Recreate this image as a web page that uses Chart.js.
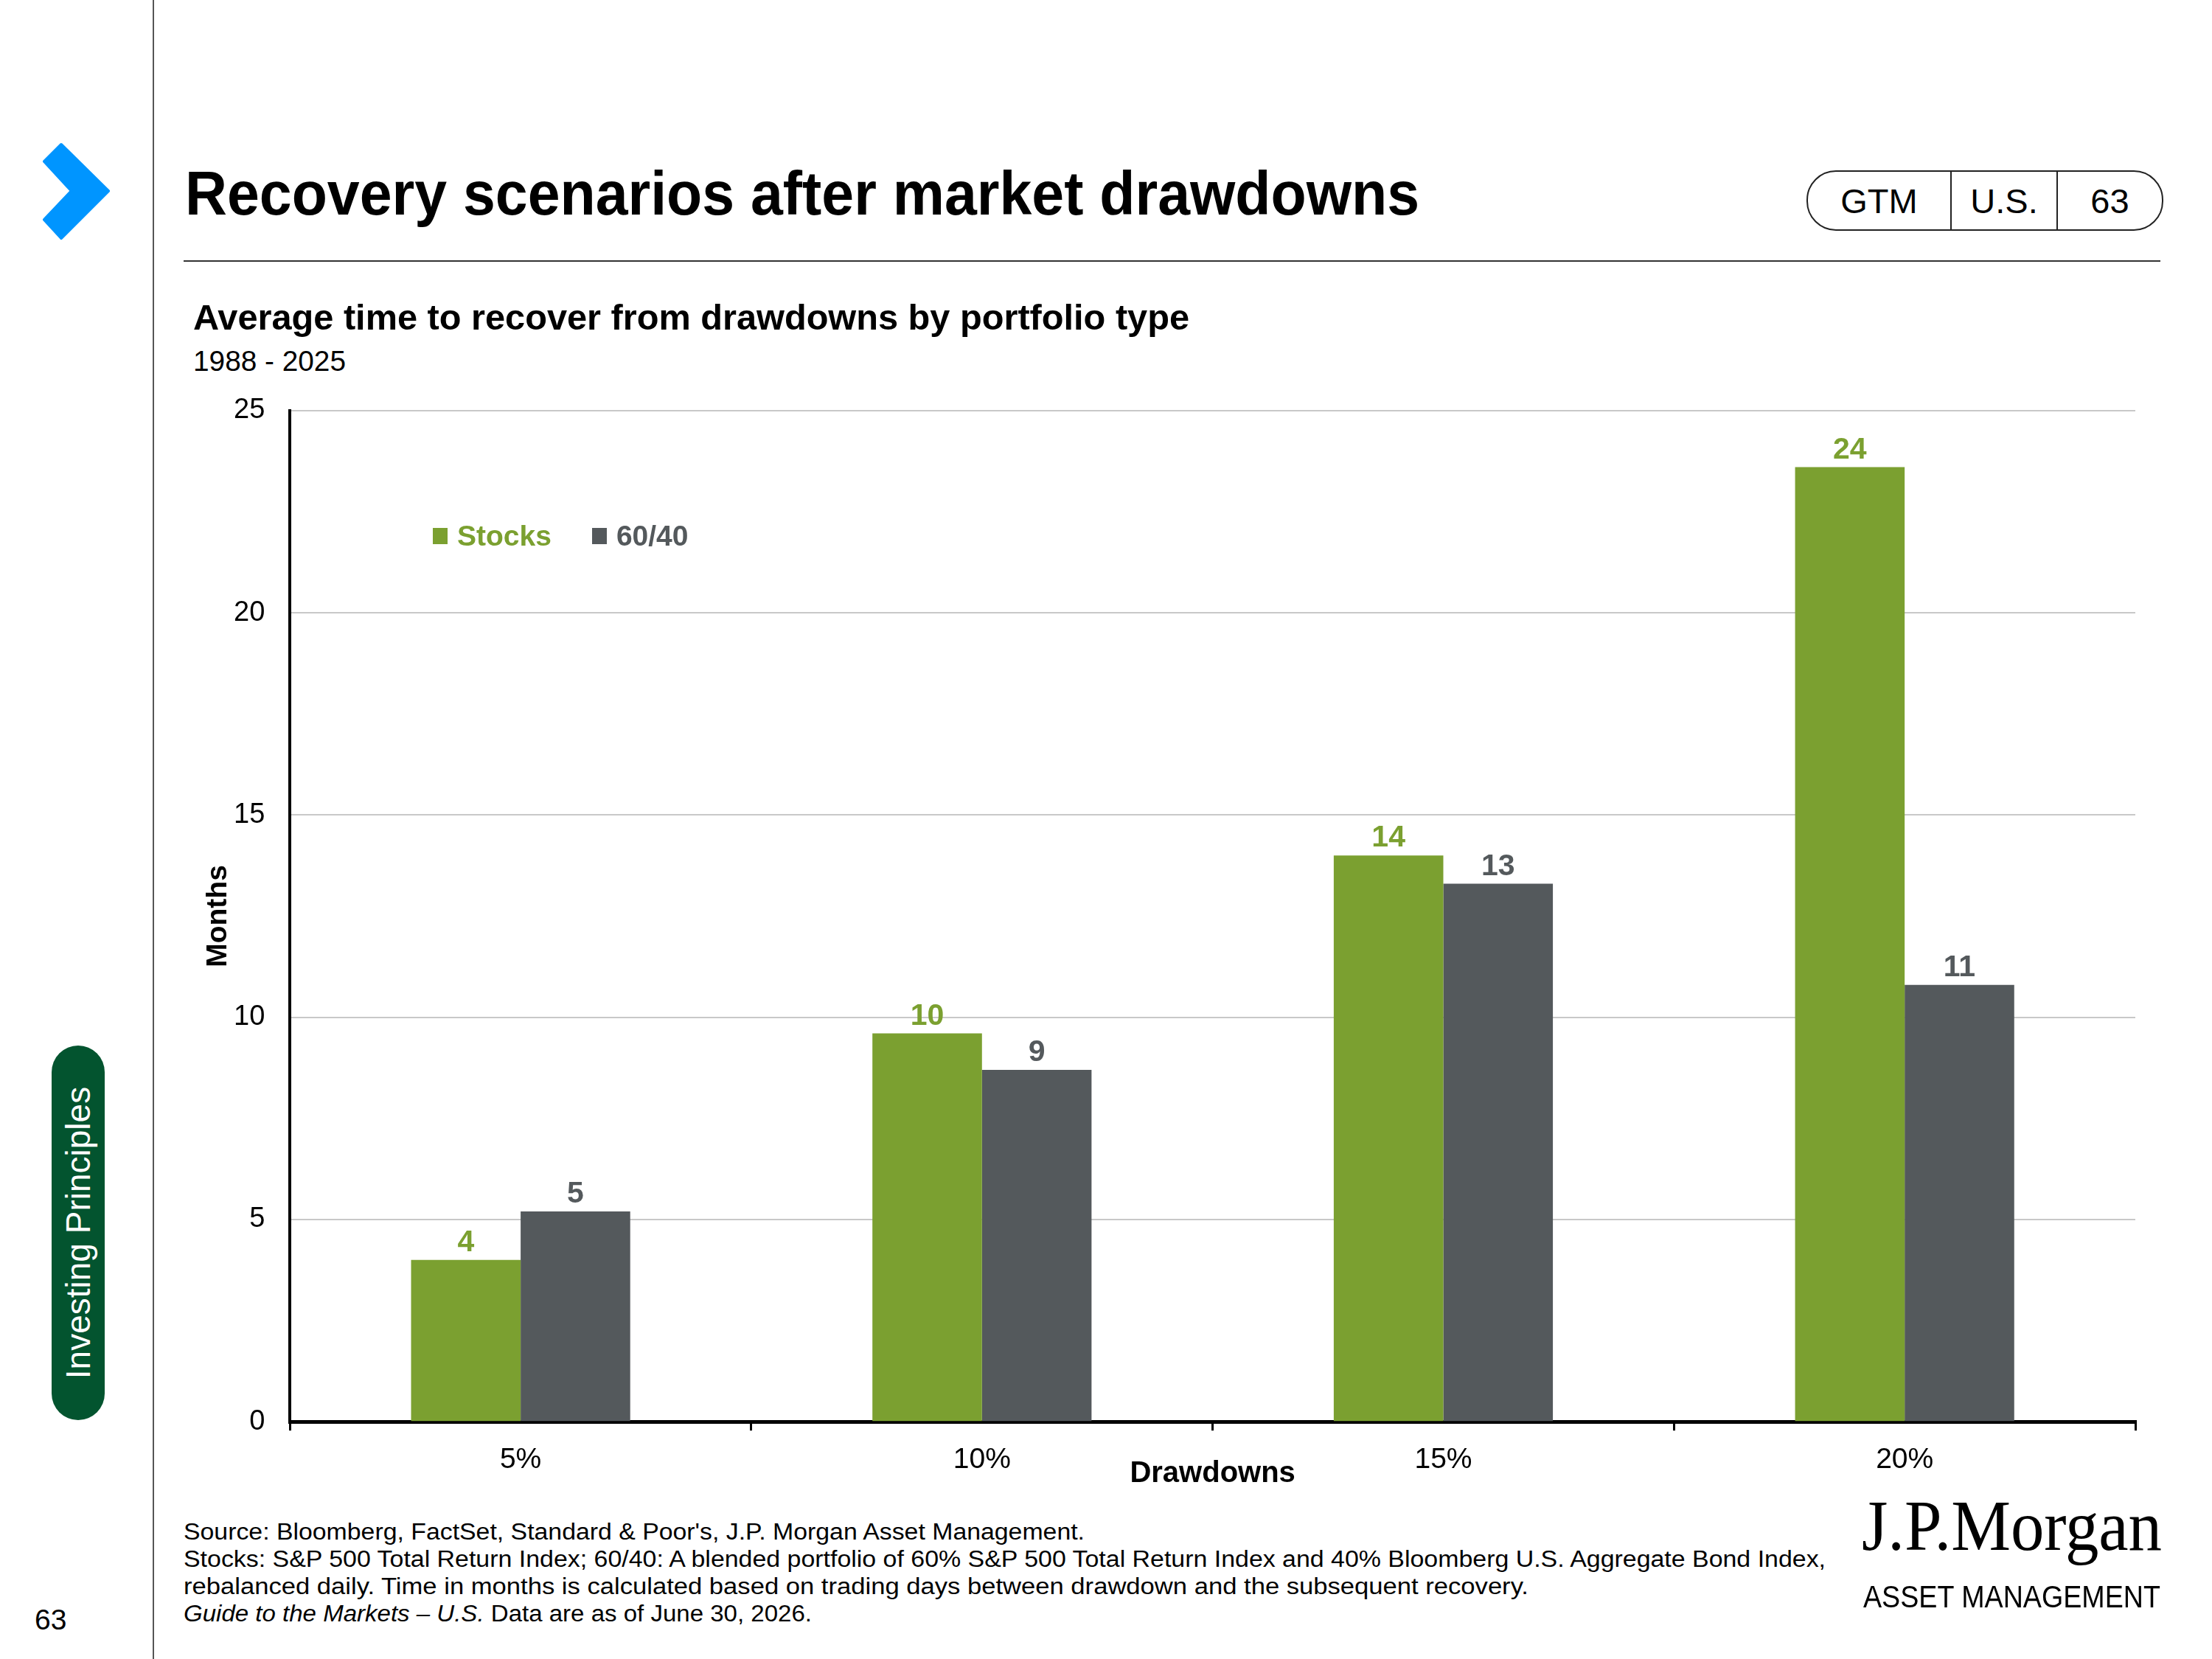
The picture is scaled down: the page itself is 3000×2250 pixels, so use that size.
<!DOCTYPE html>
<html>
<head>
<meta charset="utf-8">
<script src="https://cdn.jsdelivr.net/npm/chart.js@4.4.1/dist/chart.umd.min.js"></script>
<style>
  html, body { margin: 0; padding: 0; background: #fff; }
  body { width: 3000px; height: 2250px; position: relative; overflow: hidden; font-family: "Liberation Sans", Arial, sans-serif; color: #000; }
  .abs { position: absolute; white-space: nowrap; line-height: 1; }
  .fit { transform-origin: left center; display: inline-block; }
  #sideLine { position: absolute; left: 207px; top: 0; width: 2px; height: 2250px; background: #555; }
  #rule { position: absolute; left: 249px; top: 353px; width: 2681px; height: 2px; background: #333; }
  #pill { position: absolute; left: 70px; top: 1418px; width: 72px; height: 508px; border-radius: 36px; background: #03542f; }
  #pill span { position: absolute; left: 50%; top: 50%; transform: translate(-50%, -50%) rotate(-90deg); color: #fff; font-size: 46px; white-space: nowrap; }
  #tag { position: absolute; left: 2450px; top: 231px; width: 480px; height: 78px; border: 2px solid #222; border-radius: 40px; display: flex; }
  #tag div { display: flex; align-items: center; justify-content: center; font-size: 47px; height: 100%; }
  #legend { position: absolute; left: 587px; top: 707px; display: flex; font-weight: bold; font-size: 39px; line-height: 1; }
  #legend .item { display: flex; align-items: center; margin-right: 55px; }
  #legend .sw { width: 20px; height: 22px; margin-right: 13px; }
  #chartBox { position: absolute; left: 250px; top: 500px; width: 2680px; height: 1534px; }
  #notes { position: absolute; left: 249px; top: 2059px; font-size: 31px; line-height: 37px; white-space: nowrap; }
  #notes div { transform-origin: left center; display: block; width: max-content; }
</style>
</head>
<body>
<div id="sideLine"></div>
<svg class="abs" style="left:0;top:0" width="200" height="360">
  <polygon points="83,196 147,259 83,323 60,298 97,259 60,219" fill="#0095ff" stroke="#0095ff" stroke-width="4" stroke-linejoin="round"/>
</svg>

<div class="abs fit" style="left:251px;top:221px;font-size:83px;font-weight:bold;" data-w="1674">Recovery scenarios after market drawdowns</div>
<div id="tag">
  <div style="width:193px;border-right:2px solid #222;">GTM</div>
  <div style="width:142px;border-right:2px solid #222;">U.S.</div>
  <div style="flex:1;">63</div>
</div>
<div id="rule"></div>

<div class="abs fit" style="left:262px;top:407px;font-size:48px;font-weight:bold;" data-w="1351">Average time to recover from drawdowns by portfolio type</div>
<div class="abs fit" style="left:262px;top:471px;font-size:38px;" data-w="207">1988 - 2025</div>

<div id="chartBox"><canvas id="recoveryChart"></canvas></div>
<div id="legend"></div>

<div id="pill"><span>Investing Principles</span></div>

<div id="notes">
  <div data-w="1222">Source: Bloomberg, FactSet, Standard &amp; Poor's, J.P. Morgan Asset Management.</div>
  <div data-w="2227">Stocks: S&amp;P 500 Total Return Index; 60/40: A blended portfolio of 60% S&amp;P 500 Total Return Index and 40% Bloomberg U.S. Aggregate Bond Index,</div>
  <div data-w="1824">rebalanced daily. Time in months is calculated based on trading days between drawdown and the subsequent recovery.</div>
  <div data-w="852"><i>Guide to the Markets – U.S.</i> Data are as of June 30, 2026.</div>
</div>

<div class="abs" style="left:47px;top:2177px;font-size:39px;">63</div>
<div class="abs fit" style="left:2525px;top:2020px;font-size:98px;font-family:'Liberation Serif','Times New Roman',serif;" data-w="407">J.P.Morgan</div>
<div class="abs fit" style="left:2527px;top:2145px;font-size:42px;" data-w="403">ASSET MANAGEMENT</div>

<script>
const categories = ['5%', '10%', '15%', '20%'];
const seriesNames = ['Stocks', '60/40'];
const stocksMonths = [4.0, 9.6, 14.0, 23.6];
const balancedMonths = [5.2, 8.7, 13.3, 10.8];
const yTicks = [0, 5, 10, 15, 20, 25];
const seriesColors = ['#7ba030', '#54595c'];

const FONT = '"Liberation Sans", Arial, sans-serif';

// labels above each bar, rounded to whole months
const barLabels = {
    id: 'barLabels',
    afterDatasetsDraw(chart) {
        const ctx = chart.ctx;
        ctx.save();
        ctx.font = 'bold 41px ' + FONT;
        ctx.textAlign = 'center';
        ctx.textBaseline = 'alphabetic';
        chart.data.datasets.forEach((ds, i) => {
            ctx.fillStyle = ds.backgroundColor;
            chart.getDatasetMeta(i).data.forEach((bar, j) => {
                ctx.fillText(Math.round(ds.data[j]), bar.x, bar.y - 12);
            });
        });
        ctx.restore();
    }
};

const ctx = document.getElementById('recoveryChart').getContext('2d');
const chart = new Chart(ctx, {
    type: 'bar',
    data: {
        labels: categories,
        datasets: [
            { label: seriesNames[0], data: stocksMonths, backgroundColor: seriesColors[0] },
            { label: seriesNames[1], data: balancedMonths, backgroundColor: seriesColors[1] }
        ]
    },
    options: {
        responsive: true,
        maintainAspectRatio: false,
        animation: false,
        devicePixelRatio: 1,
        layout: { padding: { left: 27, right: 34, top: 52, bottom: 11 } },
        datasets: { bar: { categoryPercentage: 0.475, barPercentage: 1.0 } },
        plugins: {
            legend: { display: false },
            tooltip: { enabled: false }
        },
        scales: {
            x: {
                grid: { display: true, drawOnChartArea: false, drawTicks: true, tickLength: 12, color: '#000', lineWidth: 3 },
                border: { display: true, color: '#000', width: 5 },
                ticks: { color: '#000', padding: 17, font: { family: FONT, size: 39 } },
                title: {
                    display: true, text: 'Drawdowns', color: '#000',
                    font: { family: FONT, size: 40, weight: 'bold' },
                    padding: { top: -46, bottom: 0 }
                }
            },
            y: {
                min: yTicks[0],
                max: yTicks[yTicks.length - 1],
                afterBuildTicks: axis => { axis.ticks = yTicks.map(v => ({ value: v })); },
                grid: { color: '#c8c8c8', lineWidth: 2, drawTicks: false },
                border: { display: true, color: '#000', width: 4 },
                ticks: { color: '#000', padding: 34, font: { family: FONT, size: 38 } },
                title: {
                    display: true, text: 'Months', color: '#000',
                    font: { family: FONT, size: 39, weight: 'bold', lineHeight: 1 },
                    padding: { top: 0, bottom: -33 }
                }
            }
        }
    },
    plugins: [barLabels]
});

// legend built from the series
const legend = document.getElementById('legend');
seriesNames.forEach((name, i) => {
    const item = document.createElement('div');
    item.className = 'item';
    item.style.color = seriesColors[i];
    item.innerHTML = '<span class="sw" style="background:' + seriesColors[i] + '"></span>' + name;
    legend.appendChild(item);
});

// squeeze text blocks to the widths seen in the slide
document.querySelectorAll('[data-w]').forEach(el => {
    const w = el.getBoundingClientRect().width;
    el.style.transformOrigin = 'left center';
    el.style.transform = 'scaleX(' + (el.dataset.w / w) + ')';
});
</script>
</body>
</html>
